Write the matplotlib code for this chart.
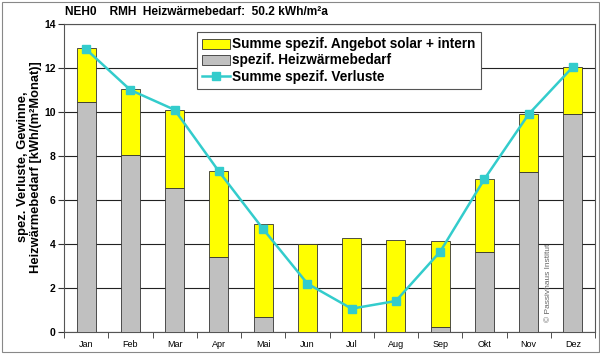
import numpy as np
import matplotlib
matplotlib.use('Agg')
import matplotlib.pyplot as plt
from matplotlib.patches import Rectangle

plt.rcParams['font.family'] = ['Liberation Sans', 'DejaVu Sans']

# ── Daten ───────────────────────────────────────────────────────────────────
MONATE = ['Jan', 'Feb', 'Mar', 'Apr', 'Mai', 'Jun',
          'Jul', 'Aug', 'Sep', 'Okt', 'Nov', 'Dez']
heizwaerme = [10.45, 8.05, 6.55, 3.4, 0.7, 0.0, 0.0, 0.0, 0.25, 3.62, 7.27, 9.9]
gewinne    = [2.45, 3.0, 3.55, 3.9, 4.2, 4.0, 4.29, 4.2, 3.89, 3.33, 2.63, 2.15]
verluste   = [12.85, 11.0, 10.1, 7.3, 4.68, 2.2, 1.06, 1.41, 3.65, 6.95, 9.9, 12.05]

TITEL = 'NEH0    RMH  Heizwärmebedarf:  50.2 kWh/m²a'
YLABEL = 'spez. Verluste, Gewinne,\nHeizwärmebedarf [kWh/(m²Monat)]'

fig = plt.figure(figsize=(6.0, 3.58), dpi=100)
ax = fig.add_axes([64 / 600, 1 - 332 / 358, (595 - 64) / 600, (332 - 24) / 358])

x = np.arange(len(MONATE))
w = 0.43
b_heiz = ax.bar(x, heizwaerme, w, color='#C0C0C0', edgecolor='#333333',
                linewidth=0.6, zorder=3)
b_gew = ax.bar(x, gewinne, w, bottom=heizwaerme, color='#FFFF00',
               edgecolor='#333333', linewidth=0.6, zorder=3)
l_verl, = ax.plot(x, verluste, '-s', color='#33CCCC', lw=1.8, markersize=6,
                  zorder=4)

ax.set_xlim(-0.5, len(MONATE) - 0.5)
ax.set_ylim(0, 14)
ax.set_yticks(np.arange(0, 15, 2))
ax.set_yticklabels([str(v) for v in range(0, 15, 2)], fontsize=7.5, fontweight='bold')
ax.set_xticks(x)
ax.set_xticklabels(MONATE, fontsize=6.5)
ax.set_xticks(np.arange(-0.5, len(MONATE), 1), minor=True)
ax.tick_params(axis='x', which='major', length=0, pad=6)
ax.tick_params(axis='x', which='minor', length=4, direction='out', color='#333333')
ax.tick_params(axis='y', length=4, direction='out', color='#333333', pad=2)
ax.yaxis.grid(True, color='#222222', lw=0.8, zorder=0)
for s in ax.spines.values():
    s.set_color('#555555')
    s.set_linewidth(0.8)

ax.set_ylabel(YLABEL, fontsize=9.3, fontweight='bold', linespacing=1.05)
ax.yaxis.set_label_coords(-0.042, (332 - 167) / 308)
fig.text(65 / 600, 1 - 12 / 358, TITEL, fontsize=8.6, fontweight='bold',
         ha='left', va='center')

leg = ax.legend([b_gew, b_heiz, l_verl],
                ['Summe spezif. Angebot solar + intern', 'spezif. Heizwärmebedarf',
                 'Summe spezif. Verluste'],
                loc='upper left', bbox_to_anchor=((197 - 64) / 531, 1 - 8 / 308),
                prop={'weight': 'bold', 'size': 9.8},
                fancybox=False, framealpha=1, edgecolor='#555555',
                handlelength=2.0, handleheight=0.8, handletextpad=0.2,
                borderpad=0.4, labelspacing=0.15, borderaxespad=0)
leg.get_frame().set_linewidth(0.8)
leg.set_zorder(5)

fig.text(549 / 600, 1 - 283 / 358, '© Passivhaus Institut', rotation=90,
         fontsize=6, color='#666666', ha='center', va='center')

fig.patches.append(Rectangle((1.5 / 600, 1 - 352 / 358), 597 / 600, 350 / 358,
                             transform=fig.transFigure, fill=False,
                             edgecolor='#888888', lw=0.8))

fig.savefig('out.png', dpi=100)
